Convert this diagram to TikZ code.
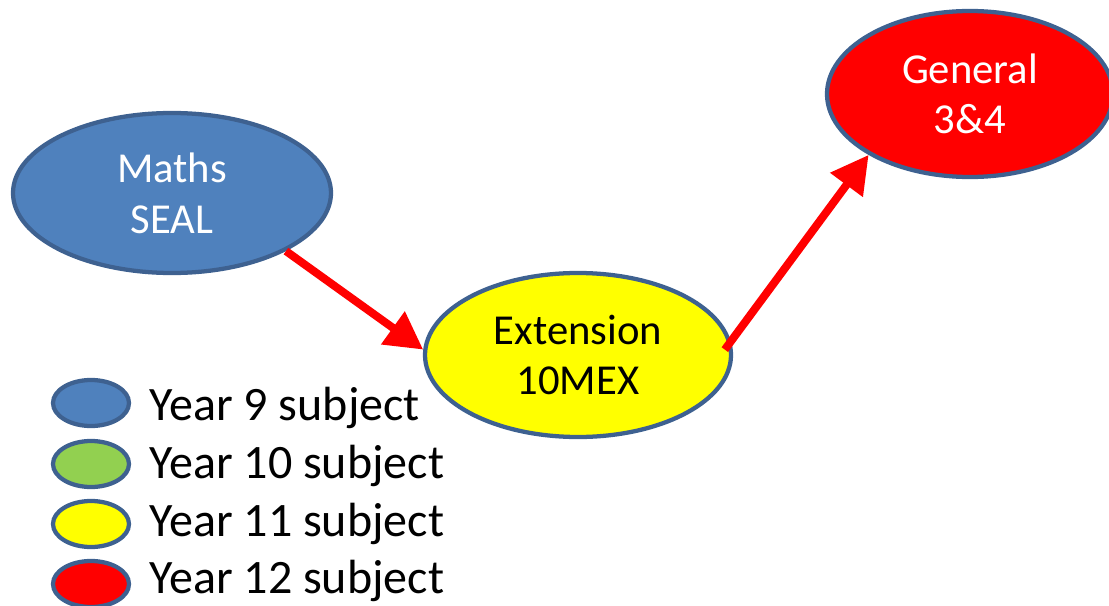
\documentclass[tikz,border=0pt]{standalone}
\usepackage{fontspec}
\setmainfont{Carlito}
\usetikzlibrary{shapes.geometric,arrows.meta}

\definecolor{edgeblue}{HTML}{3E6190}
\definecolor{subjblue}{HTML}{4F81BD}
\definecolor{subjgreen}{HTML}{92D050}
\definecolor{subjyellow}{HTML}{FFFF00}
\definecolor{subjred}{HTML}{FF0000}

\begin{document}
\begin{tikzpicture}[x=0.75pt,y=-0.75pt]
    \tikzstyle{subj}=[ellipse,draw=edgeblue,line width=3.2pt,align=center,inner sep=0pt,font=\fontsize{32}{38}\selectfont]
    \tikzstyle{keyell}=[ellipse,draw=edgeblue,line width=3.2pt,minimum width=57pt,minimum height=34.5pt]
    \tikzstyle{marrs}=[line width=6pt,draw=subjred,-{Triangle[length=28pt,width=29pt]}]

    \useasboundingbox (0,0) rectangle (1109,606);

    \begin{scope}

        \node[subj,fill=subjblue,text=white,minimum width=238.5pt,minimum height=120pt] (maths) at (172,193) {Maths\\SEAL};
        \node[subj,fill=subjyellow,text=black,minimum width=229.5pt,minimum height=123pt] (ext) at (578,355) {Extension\\10MEX};
        \node[subj,fill=subjred,text=white,minimum width=214.5pt,minimum height=124.5pt] (gen) at (970,94) {General\\3\&4};

        \draw[marrs] (maths.-27) -- (ext.178);
        \draw[marrs] ([xshift=-6pt]ext.2) -- (gen.211);

        % key
        \foreach \n/\c/\ky/\ty in {9/subjblue/403/420, 10/subjgreen/464/478, 11/subjyellow/524/536, 12/subjred/584/593} {
            \node[keyell,fill=\c] (key\n) at (91,\ky) {};
            \node[anchor=base west,inner sep=0pt,font=\fontsize{36}{40}\selectfont] (lbl\n) at (149,\ty) {Year \n\ subject};
        }

    \end{scope}

\end{tikzpicture}
\end{document}
